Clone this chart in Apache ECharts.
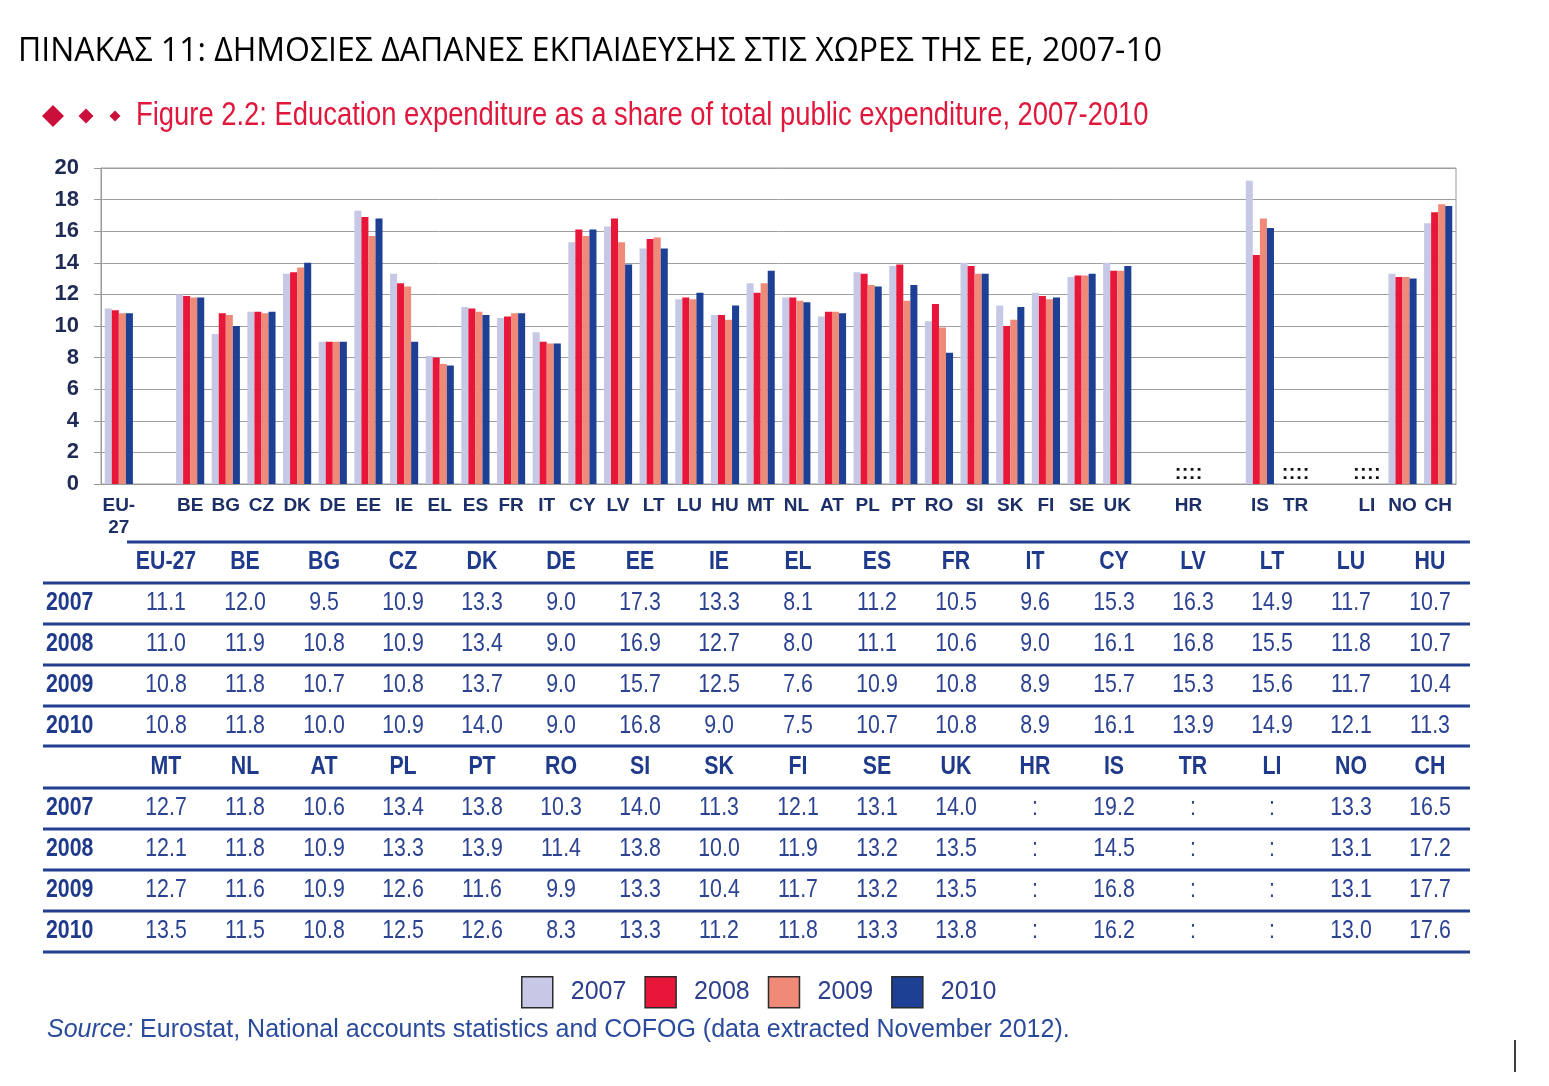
<!DOCTYPE html>
<html>
<head>
<meta charset="utf-8" />
<title>Education expenditure</title>
<script src="https://cdn.jsdelivr.net/npm/echarts@6.0.0/dist/echarts.min.js"></script>
<style>
  html, body { margin: 0; padding: 0; background: #fff; }
  #chart { width: 1549px; height: 1086px; }
</style>
</head>
<body>
<div id="chart"></div>
<script>
// data (null = not available ':')
var years = ['2007', '2008', '2009', '2010'];
var countries = ['EU-27', 'BE', 'BG', 'CZ', 'DK', 'DE', 'EE', 'IE', 'EL', 'ES', 'FR', 'IT', 'CY', 'LV', 'LT', 'LU', 'HU',
                 'MT', 'NL', 'AT', 'PL', 'PT', 'RO', 'SI', 'SK', 'FI', 'SE', 'UK', 'HR', 'IS', 'TR', 'LI', 'NO', 'CH'];
var v2007 = [11.1, 12.0, 9.5, 10.9, 13.3, 9.0, 17.3, 13.3, 8.1, 11.2, 10.5, 9.6, 15.3, 16.3, 14.9, 11.7, 10.7,
             12.7, 11.8, 10.6, 13.4, 13.8, 10.3, 14.0, 11.3, 12.1, 13.1, 14.0, null, 19.2, null, null, 13.3, 16.5];
var v2008 = [11.0, 11.9, 10.8, 10.9, 13.4, 9.0, 16.9, 12.7, 8.0, 11.1, 10.6, 9.0, 16.1, 16.8, 15.5, 11.8, 10.7,
             12.1, 11.8, 10.9, 13.3, 13.9, 11.4, 13.8, 10.0, 11.9, 13.2, 13.5, null, 14.5, null, null, 13.1, 17.2];
var v2009 = [10.8, 11.8, 10.7, 10.8, 13.7, 9.0, 15.7, 12.5, 7.6, 10.9, 10.8, 8.9, 15.7, 15.3, 15.6, 11.7, 10.4,
             12.7, 11.6, 10.9, 12.6, 11.6, 9.9, 13.3, 10.4, 11.7, 13.2, 13.5, null, 16.8, null, null, 13.1, 17.7];
var v2010 = [10.8, 11.8, 10.0, 10.9, 14.0, 9.0, 16.8, 9.0, 7.5, 10.7, 10.8, 8.9, 16.1, 13.9, 14.9, 12.1, 11.3,
             13.5, 11.5, 10.8, 12.5, 12.6, 8.3, 13.3, 11.2, 11.8, 13.3, 13.8, null, 16.2, null, null, 13.0, 17.6];
var yTicks = [0, 20, 2]; // min, max, step
// an empty slot follows these countries on the chart
var gapAfter = ['EU-27', 'UK', 'HR', 'TR'];

var values = [v2007, v2008, v2009, v2010];
var colors = ['#c6c8e6', '#e8173a', '#f08a78', '#1d3f94'];
var ARIAL = '"Liberation Sans", Arial, sans-serif';
var NAVY = '#1f3a8a';
var NARROW_X = 0.82; // no Arial Narrow here, squeeze Arial instead

// chart slots with gaps
var slots = [];
var slotIdx = [];
countries.forEach(function (c, i) {
  slots.push(c);
  slotIdx.push(i);
  if (gapAfter.indexOf(c) >= 0) {
    slots.push('_gap' + i);
    slotIdx.push(-1);
  }
});

var series = years.map(function (y, s) {
  return {
    name: y,
    type: 'bar',
    barGap: '0%',
    barCategoryGap: '21%',
    itemStyle: { color: colors[s] },
    data: slotIdx.map(function (i) {
      if (i < 0) return null;
      var v = values[s][i];
      if (v === null) {
        return {
          value: 0,
          label: {
            show: true, position: 'top', distance: 1, formatter: ':',
            color: '#111', fontSize: 20, fontWeight: 'bold', fontFamily: ARIAL
          }
        };
      }
      return v;
    })
  };
});

function narrowText(x, y, text, font, fill, align) {
  return { type: 'text', x: x, y: y, scaleX: NARROW_X,
    style: { text: text, font: font, fill: fill, align: align, verticalAlign: 'middle' } };
}

// table below the chart, built from the same arrays
var graphic = [];
var colX0 = 166, colStep = 79, half = 17;
var blocks = [{ head: 562, top: 542, topLeft: 127 }, { head: 767, top: 746, topLeft: 43 }];
blocks.forEach(function (b, bi) {
  graphic.push({ type: 'line', shape: { x1: b.topLeft, y1: b.top, x2: 1470, y2: b.top },
    style: { stroke: '#233f8f', lineWidth: 3 } });
  for (var k = 0; k < half; k++) {
    graphic.push(narrowText(colX0 + k * colStep, b.head, countries[bi * half + k], 'bold 26px ' + ARIAL, NAVY, 'center'));
  }
  years.forEach(function (yr, r) {
    var ry = b.head + 41 * (r + 1);
    graphic.push({ type: 'line', shape: { x1: 43, y1: ry - 20, x2: 1470, y2: ry - 20 },
      style: { stroke: '#233f8f', lineWidth: 3 } });
    graphic.push(narrowText(46, ry, yr, 'bold 26px ' + ARIAL, NAVY, 'left'));
    for (var k = 0; k < half; k++) {
      var v = values[r][bi * half + k];
      graphic.push(narrowText(colX0 + k * colStep, ry, v === null ? ':' : v.toFixed(1), '26px ' + ARIAL, '#2c4391', 'center'));
    }
  });
  if (bi === 1) {
    graphic.push({ type: 'line', shape: { x1: 43, y1: b.head + 41 * 4 + 21, x2: 1470, y2: b.head + 41 * 4 + 21 },
      style: { stroke: '#233f8f', lineWidth: 3 } });
  }
});

// diamonds before the figure title
[[53, 11], [86, 7.5], [115, 5.5]].forEach(function (d) {
  var cx = d[0], cy = 116, r = d[1];
  graphic.push({ type: 'polygon', shape: { points: [[cx, cy - r], [cx + r, cy], [cx, cy + r], [cx - r, cy]] },
    style: { fill: '#cc0e3a' } });
});

graphic.push({ type: 'text', x: 18, y: 52,
  style: { text: 'ΠΙΝΑΚΑΣ 11: ΔΗΜΟΣΙΕΣ ΔΑΠΑΝΕΣ ΕΚΠΑΙΔΕΥΣΗΣ ΣΤΙΣ ΧΩΡΕΣ ΤΗΣ ΕΕ, 2007-10',
    font: '32px "Open Sans", "Noto Sans", sans-serif', fill: '#000', align: 'left', verticalAlign: 'middle' } });
graphic.push({ type: 'text', x: 136, y: 116, scaleX: 0.83,
  style: { text: 'Figure 2.2: Education expenditure as a share of total public expenditure, 2007-2010',
    font: '33px ' + ARIAL, fill: '#e0183c', align: 'left', verticalAlign: 'middle' } });
graphic.push({ type: 'text', x: 47, y: 1030,
  style: { text: '{i|Source:} Eurostat, National accounts statistics and COFOG (data extracted November 2012).',
    font: '25px ' + ARIAL, fill: '#2a4a9c', align: 'left', verticalAlign: 'middle',
    rich: { i: { fontStyle: 'italic', font: 'italic 25px ' + ARIAL, fill: '#2a4a9c' } } } });
graphic.push({ type: 'line', shape: { x1: 1515, y1: 1040, x2: 1515, y2: 1072 }, style: { stroke: '#000', lineWidth: 1.5 } });

var chart = echarts.init(document.getElementById('chart'));
chart.setOption({
  backgroundColor: '#fff',
  animation: false,
  grid: { left: 101, top: 168, width: 1355, height: 316, show: true, borderColor: '#9a9a9a', borderWidth: 1 },
  legend: {
    data: years, left: 521, top: 976, padding: 0, itemWidth: 31, itemHeight: 31, itemGap: 18,
    icon: 'rect',
    itemStyle: { borderColor: '#2a2a2a', borderWidth: 1.5 },
    textStyle: { fontFamily: ARIAL, fontSize: 25, color: '#2c3e8c', padding: [0, 0, 0, 13] }
  },
  xAxis: {
    type: 'category',
    data: slots,
    axisLine: { lineStyle: { color: '#9a9a9a' } },
    axisTick: { show: false },
    axisLabel: {
      interval: 0, margin: 11, fontFamily: ARIAL, fontWeight: 'bold', fontSize: 19, lineHeight: 22,
      color: '#1c2f66',
      formatter: function (v) {
        if (v.indexOf('_gap') === 0) return '';
        return v === 'EU-27' ? 'EU-\n27' : v;
      }
    }
  },
  yAxis: {
    type: 'value', min: yTicks[0], max: yTicks[1], interval: yTicks[2],
    axisLine: { show: true, lineStyle: { color: '#9a9a9a' } },
    axisTick: { show: true, length: 7, lineStyle: { color: '#9a9a9a' } },
    axisLabel: { margin: 22, fontFamily: ARIAL, fontWeight: 'bold', fontSize: 22, color: '#1f2a55' },
    splitLine: { lineStyle: { color: '#a0a0a0', width: 1 } }
  },
  series: series,
  graphic: graphic
});
</script>
</body>
</html>
